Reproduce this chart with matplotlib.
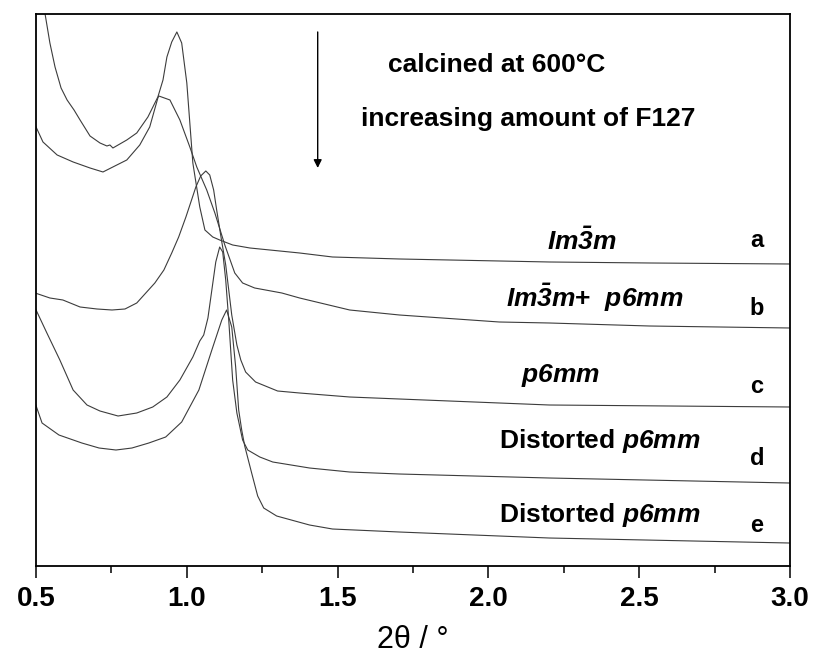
import numpy as np
import matplotlib
matplotlib.use("Agg")
import matplotlib.pyplot as plt
from matplotlib.ticker import MultipleLocator

plt.rcParams['font.family'] = ['Liberation Sans', 'DejaVu Sans']
plt.rcParams['mathtext.fontset'] = 'custom'
plt.rcParams['mathtext.rm'] = 'Liberation Sans'
plt.rcParams['mathtext.it'] = 'Liberation Sans:italic'
plt.rcParams['mathtext.bf'] = 'Liberation Sans:bold'
plt.rcParams['mathtext.bfit'] = 'Liberation Sans:italic:bold'

# SAXS patterns, 2theta (deg) vs intensity (a.u., offset stacked)
two_theta_a = [0.513, 0.530, 0.546, 0.563, 0.583, 0.603, 0.626, 0.646, 0.679, 0.712,
               0.735, 0.745, 0.755, 0.778, 0.801, 0.834, 0.871, 0.904, 0.921, 0.934,
               0.950, 0.967, 0.983, 1.000, 1.020, 1.043, 1.060, 1.086, 1.109, 1.152,
               1.209, 1.374, 1.483, 1.705, 2.202, 2.533, 3.000]
intensity_a = [581, 552, 523, 499, 478, 466, 456, 446, 430, 423,
               420, 421, 418, 422, 426, 433, 449, 469, 486, 509,
               524, 534, 523, 483, 403, 359, 336, 329, 326, 321,
               318, 313, 309, 307, 304, 303, 302]

two_theta_b = [0.497, 0.523, 0.570, 0.623, 0.679, 0.722, 0.768, 0.801, 0.844, 0.877,
               0.904, 0.907, 0.944, 0.977, 1.010, 1.033, 1.066, 1.093, 1.126, 1.159,
               1.185, 1.225, 1.315, 1.374, 1.540, 1.705, 2.036, 2.202, 2.533, 3.000]
intensity_b = [441, 424, 411, 404, 398, 394, 401, 406, 421, 439,
               468, 470, 466, 446, 419, 399, 376, 353, 321, 293,
               283, 278, 273, 268, 256, 251, 244, 243, 240, 238]

two_theta_c = [0.497, 0.546, 0.589, 0.646, 0.702, 0.752, 0.795, 0.834, 0.864, 0.894,
               0.924, 0.950, 0.973, 0.997, 1.030, 1.046, 1.063, 1.076, 1.089, 1.099,
               1.116, 1.129, 1.139, 1.149, 1.166, 1.179, 1.195, 1.228, 1.301, 1.374,
               1.540, 1.705, 2.202, 3.000]
intensity_c = [273, 268, 266, 259, 257, 256, 257, 263, 273, 283,
               296, 313, 329, 349, 379, 390, 395, 391, 376, 356,
               324, 301, 276, 251, 221, 206, 194, 184, 175, 173,
               169, 167, 161, 159]

two_theta_d = [0.497, 0.536, 0.579, 0.623, 0.669, 0.712, 0.772, 0.834, 0.887, 0.934,
               0.977, 1.020, 1.043, 1.056, 1.070, 1.083, 1.096, 1.109, 1.119, 1.129,
               1.139, 1.152, 1.166, 1.185, 1.202, 1.242, 1.285, 1.407, 1.540, 1.705,
               2.202, 3.000]
intensity_d = [258, 233, 206, 176, 161, 155, 150, 153, 159, 169,
               186, 209, 225, 231, 248, 276, 304, 319, 314, 286,
               246, 186, 153, 126, 116, 109, 104, 98, 94, 92,
               88, 83]

two_theta_e = [0.497, 0.520, 0.576, 0.652, 0.709, 0.765, 0.818, 0.874, 0.930, 0.983,
               1.040, 1.083, 1.116, 1.132, 1.149, 1.162, 1.172, 1.182, 1.192, 1.215,
               1.235, 1.255, 1.298, 1.407, 1.483, 1.705, 2.202, 3.000]
intensity_e = [163, 143, 131, 123, 118, 116, 118, 123, 129, 144,
               176, 216, 246, 256, 239, 199, 156, 136, 120, 93,
               70, 58, 50, 41, 37, 34, 28, 23]

series = [(two_theta_a, intensity_a), (two_theta_b, intensity_b),
          (two_theta_c, intensity_c), (two_theta_d, intensity_d),
          (two_theta_e, intensity_e)]

curve_letters = ['a', 'b', 'c', 'd', 'e']
letter_y = [319, 251, 173, 101, 34]

phase_labels = [r'$\mathbfit{Im\bar{3}m}$',
                r'$\mathbfit{Im\bar{3}m}$+  $\mathbfit{p6mm}$',
                r'$\mathbfit{p6mm}$',
                r'Distorted $\mathbfit{p6mm}$',
                r'Distorted $\mathbfit{p6mm}$']
phase_x = [2.311, 2.354, 2.238, 2.368, 2.368]
phase_y = [316, 259, 184, 118, 44]

fig = plt.figure(figsize=(8.15, 6.59), dpi=100)
ax = fig.add_axes([0.0442, 0.1411, 0.9251, 0.8377])

for tt, inten in series:
    ax.plot(tt, inten, color='#3c3c3c', lw=0.8)

ax.set_xlim(0.5, 3.0)
ax.set_ylim(0, 552)
ax.xaxis.set_major_locator(MultipleLocator(0.5))
ax.xaxis.set_minor_locator(MultipleLocator(0.25))
ax.set_yticks([])
ax.tick_params(axis='x', which='major', direction='out', length=8.5, width=1.1,
               labelsize=20, pad=6)
ax.tick_params(axis='x', which='minor', direction='out', length=5, width=1.1)
for lab in ax.get_xticklabels():
    lab.set_fontweight('bold')
for sp in ax.spines.values():
    sp.set_linewidth(1.3)

ax.set_xlabel('2\u03b8 / \u00b0', fontsize=22, labelpad=9)

for letter, ly in zip(curve_letters, letter_y):
    ax.text(2.891, ly, letter, fontsize=17, fontweight='bold', ha='center', va='baseline')

for txt, px, py in zip(phase_labels, phase_x, phase_y):
    ax.text(px, py, txt, fontsize=19, fontweight='bold', ha='center', va='baseline')

ax.text(2.027, 494, 'calcined at 600\u00b0C', fontsize=19, fontweight='bold',
        ha='center', va='baseline')
ax.text(2.131, 440, 'increasing amount of F127', fontsize=19, fontweight='bold',
        ha='center', va='baseline')
ax.annotate('', xy=(1.434, 398), xytext=(1.434, 534),
            arrowprops=dict(arrowstyle='-|>', color='black', lw=1.0,
                            mutation_scale=12, shrinkA=0, shrinkB=0))

fig.savefig('out.png', dpi=100)
